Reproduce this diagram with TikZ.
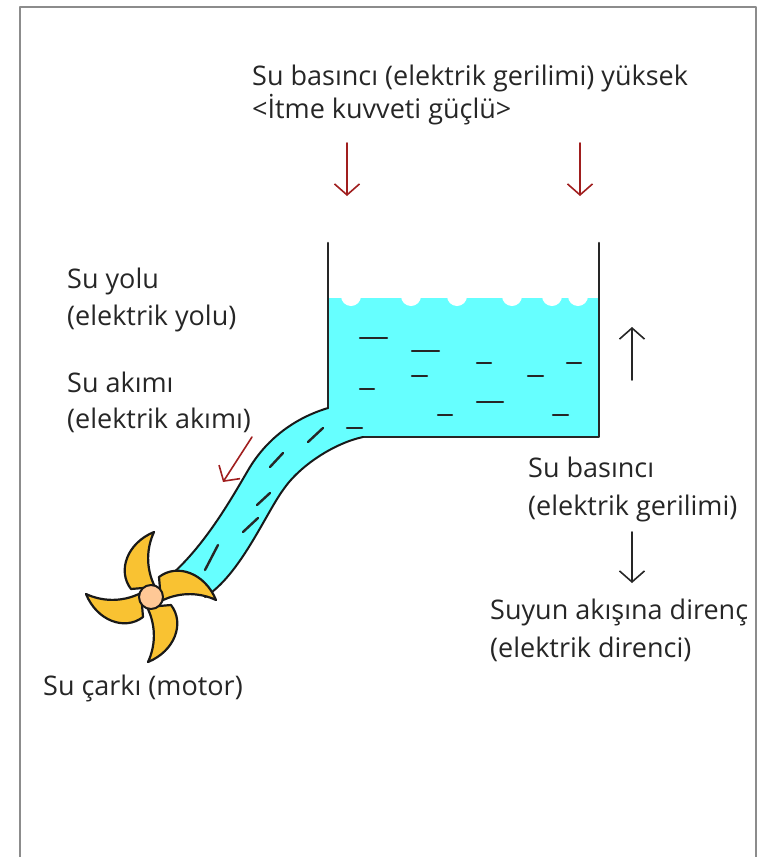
\documentclass[tikz,border=0pt]{standalone}
\usepackage{fontspec}
\setmainfont{Open Sans}
\usetikzlibrary{arrows.meta}
\definecolor{su}{HTML}{66FFFF}
\definecolor{kanat}{HTML}{F9C232}
\definecolor{gobek}{HTML}{FFC896}
\definecolor{kirmizi}{HTML}{A01E1E}
\definecolor{cerceve}{HTML}{8C8C8C}
\tikzset{
	yazi/.style={anchor=base west,inner sep=0pt,font=\fontsize{27}{33}\selectfont,text=black!85},
	ok/.style={->,line width=1.6pt,draw=black!85},
	kok/.style={ok,draw=kirmizi},
	duvar/.style={line width=2.6pt,draw=black!85},
	kenar/.style={line width=2pt,draw=black!90},
	tire/.style={line width=2.4pt,draw=black!85},
}
\begin{document}
\begin{tikzpicture}[line join=round,line cap=round,>={Straight Barb[length=11pt,width=25pt]},x=1pt,y=-1pt]
	\def\xl{328} \def\xr{599} \def\yu{243} \def\ys{298} \def\ya{437}
	\useasboundingbox (0,0) rectangle (761,857);
	\draw[cerceve,line width=2pt] (20,857)--(20,7)--(756,7)--(756,857);
	% su: depo + boru
	\fill[su] (\xl,\ys)--(\xr,\ys)--(\xr,\ya)--(363,\ya)
		.. controls (335,443) and (300,465) .. (283,490)
		.. controls (265,515) and (240,575) .. (205,597)
		-- (165,580)
		.. controls (205,548) and (235,492) .. (250,467)
		.. controls (268,438) and (295,418) .. (\xl,408) -- cycle;
	\foreach \k in {351,411,457,512,552,578}
		\fill[white] (\k,296) circle (10);
	% depo duvarlari
	\draw[duvar] (\xl,\yu)--(\xl,408);
	\draw[duvar] (\xr,\yu)--(\xr,\ya)--(363,\ya);
	% boru kenarlari
	\draw[kenar] (\xl,408) .. controls (295,418) and (268,438) .. (250,467)
		.. controls (235,492) and (205,548) .. (165,580);
	\draw[kenar] (363,\ya) .. controls (335,443) and (300,465) .. (283,490)
		.. controls (265,515) and (240,575) .. (205,597);
	% akis cizgileri
	\foreach \a/\b/\y in {360/387/338,412/439/351,477/491/363,567/581/363,412/427/376,528/543/376,
		360/374/389,477/503/402,438/452/415,553/568/415,347/362/428}
		\draw[tire] (\a,\y)--(\b,\y);
	\foreach \p/\q in {{308,442}/{323,428},{270,467}/{283,453},{257,505}/{270,493},{243,532}/{258,518},{205,570}/{218,545}}
		\draw[tire] (\p)--(\q);
	% su carki
	\begin{scope}[shift={(151,597)}]
		\foreach \r in {0,90,180,270}
			\filldraw[fill=kanat,draw=black!90,line width=2.2pt,rotate=\r]
				(8,-20) .. controls (26,-34) and (54,-24) .. (65,3)
				.. controls (50,-4) and (30,-6) .. (10,4) -- cycle;
		\filldraw[fill=gobek,draw=black!90,line width=2pt] (0,0) circle (12);
	\end{scope}
	% oklar
	\coordinate (k1) at (347,143); \coordinate (k1e) at (347,196);
	\coordinate (k2) at (580,143); \coordinate (k2e) at (580,196);
	\coordinate (k3) at (252,437); \coordinate (k3e) at (223,482);
	\coordinate (s1) at (632,380); \coordinate (s1e) at (632,327);
	\coordinate (s2) at (632,532); \coordinate (s2e) at (632,583);
	\draw[kok] (k1)--(k1e);
	\draw[kok] (k2)--(k2e);
	\draw[kok] (k3)--(k3e);
	\draw[ok] (s1)--(s1e);
	\draw[ok] (s2)--(s2e);
	% yazilar
	\node[yazi] (ust1) at (252,85) {Su basıncı (elektrik gerilimi) yüksek};
	\node[yazi] (ust2) at (252,118) {<İtme kuvveti güçlü>};
	\node[yazi] (yol1) at (67,288) {Su yolu};
	\node[yazi] (yol2) at (67,325) {(elektrik yolu)};
	\node[yazi] (akim1) at (67,392) {Su akımı};
	\node[yazi] (akim2) at (67,428) {(elektrik akımı)};
	\node[yazi] (bas1) at (528,477) {Su basıncı};
	\node[yazi] (bas2) at (528,515) {(elektrik gerilimi)};
	\node[yazi] (dir1) at (490,619) {Suyun akışına direnç};
	\node[yazi] (dir2) at (490,657) {(elektrik direnci)};
	\node[yazi] (cark) at (43,695) {Su çarkı (motor)};
\end{tikzpicture}
\end{document}
